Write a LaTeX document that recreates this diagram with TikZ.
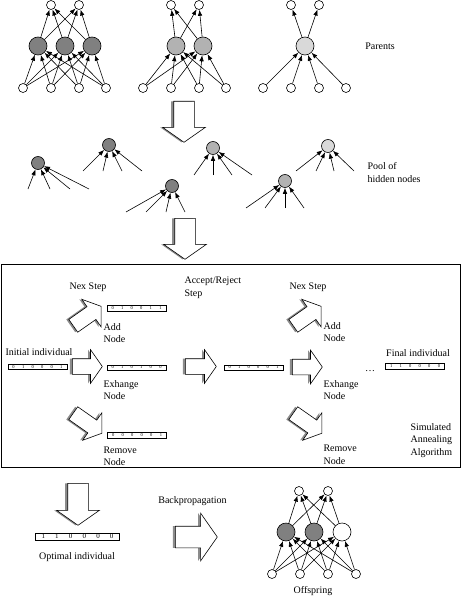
\documentclass[tikz,border=0pt]{standalone}
\usepackage{fontspec}
\setmainfont{Liberation Serif}
\usetikzlibrary{arrows.meta,positioning,shapes.arrows,shadows}

\newcommand{\bitrow}[7][50pt]{\makebox[#1]{#2\hfill#3\hfill#4\hfill#5\hfill#6\hfill#7}}

\begin{document}
\begin{tikzpicture}[
  x=1pt, y=-1pt,
  every node/.style={align=left, font=\fontsize{10}{12.5}\selectfont},
  unit/.style={circle, draw, line width=0.6pt, minimum size=9pt, inner sep=0pt, fill=white},
  hid/.style={circle, draw, line width=0.6pt, minimum size=18pt, inner sep=0pt},
  poolhid/.style={circle, draw, line width=0.6pt, minimum size=13pt, inner sep=0pt},
  conn/.style={-{Latex[length=6pt,width=4.5pt]}, line width=0.6pt},
  bits/.style={rectangle, draw, line width=0.5pt, inner xsep=4.5pt, inner ysep=0.3pt, minimum height=5.5pt, font=\fontsize{4.5}{5}\selectfont},
  blockarr/.style={single arrow, draw, line width=0.6pt, fill=white, inner xsep=0pt, anchor=tail,
    single arrow head indent=0pt, single arrow tip angle=110,
    drop shadow={shadow xshift=-2.5pt, shadow yshift=0pt, fill=black!45, opacity=1}},
  sarrow/.style={blockarr, inner ysep=7.5pt, single arrow head extend=9pt},
  larrow/.style={blockarr, inner ysep=10pt, single arrow head extend=11pt},
  gdark/.style={fill=black!50}, gmid/.style={fill=black!30}, glight/.style={fill=black!15}
]
\useasboundingbox (0,0) rectangle (462,599);

% Parent 1
\node[unit] (a1o1) at (51,5) {};
\node[unit] (a1o2) at (79,5) {};
\node[hid, gdark] (a1h1) at (38,46) {};
\node[hid, gdark] (a1h2) at (65,46) {};
\node[hid, gdark] (a1h3) at (92,46) {};
\node[unit] (a1i1) at (23,88) {};
\node[unit] (a1i2) at (51,88) {};
\node[unit] (a1i3) at (79,88) {};
\node[unit] (a1i4) at (106,88) {};
\foreach \i in {1,...,4} \foreach \h in {1,2,3} \draw[conn] (a1i\i) -- (a1h\h);
\foreach \h in {1,2,3} \foreach \o in {1,2} \draw[conn] (a1h\h) -- (a1o\o);

% Parent 2
\node[unit] (a2o1) at (171,5) {};
\node[unit] (a2o2) at (199,5) {};
\node[hid, gmid] (a2h1) at (176,46) {};
\node[hid, gmid] (a2h2) at (203,46) {};
\node[unit] (a2i1) at (143,88) {};
\node[unit] (a2i2) at (171,88) {};
\node[unit] (a2i3) at (199,88) {};
\node[unit] (a2i4) at (226,88) {};
\foreach \i in {1,...,4} \foreach \h in {1,2} \draw[conn] (a2i\i) -- (a2h\h);
\foreach \h in {1,2} \foreach \o in {1,2} \draw[conn] (a2h\h) -- (a2o\o);

% Parent 3
\node[unit] (a3o1) at (291,5) {};
\node[unit] (a3o2) at (319,5) {};
\node[hid, glight] (a3h1) at (305,46) {};
\node[unit] (a3i1) at (263,88) {};
\node[unit] (a3i2) at (291,88) {};
\node[unit] (a3i3) at (319,88) {};
\node[unit] (a3i4) at (346,88) {};
\foreach \i in {1,...,4} \draw[conn] (a3i\i) -- (a3h1);
\foreach \o in {1,2} \draw[conn] (a3h1) -- (a3o\o);

\node (parents) at (380,46) {Parents};

\node[larrow, minimum height=41pt, rotate=-90] (down1) at (184,101) {};

% Pool of hidden nodes
\foreach \n/\cx/\cy/\f/\ey/\ea/\eb/\ec/\ed in {
    p1/38/163/black!50/189/28/50/70/89,
    p2/109/145/black!50/171/83/103/122/142,
    p3/213/148/black!30/175/194/213/232/252,
    p4/172/186/black!50/212/126/146/166/185,
    p5/285/181/black!30/208/246/265/285/304,
    p6/328/146/black!15/171/296/316/334/354} {
  \node[poolhid, fill=\f] (\n) at (\cx,\cy) {};
  \foreach \x [count=\k] in {\ea,\eb,\ec,\ed} {
    \coordinate (\n e\k) at (\x,\ey);
    \draw[conn] (\n e\k) -- (\n);
  }
}
\node[anchor=west] (pool) at (364,172.5) {Pool of\\hidden nodes};

\node[larrow, minimum height=41pt, rotate=-90] (down2) at (185,218) {};

% Simulated annealing box
\node[draw, line width=0.7pt, anchor=north west, inner sep=0pt, minimum width=459pt, minimum height=203pt] (sabox) at (1,264) {};

\node (next1) at (88,287) {Nex Step};
\node (next2) at (308,287) {Nex Step};
\node[anchor=west] (accept) at (181,288) {Accept/Reject\\Step};

\node (initlab) at (39,352) {Initial individual};
\node[bits] (init) at (37.5,366.8) {\bitrow{0}{1}{0}{0}{0}{1}};

\node[sarrow, minimum height=34pt, rotate=35] (add1) at (73,326) {};
\node[sarrow, minimum height=30pt] (exch1) at (72,366.5) {};
\node[sarrow, minimum height=35pt, rotate=-35] (rem1) at (73,413) {};

\node[bits] (addbits) at (136.5,308) {\bitrow{0}{1}{0}{0}{1}{1}};
\node[bits] (exchbits) at (136.5,367.5) {\bitrow{0}{1}{0}{1}{0}{0}};
\node[bits] (rembits) at (137,435) {\bitrow{0}{0}{0}{0}{0}{1}};

\node[anchor=west] (addlab1) at (100,333) {Add\\Node};
\node[anchor=west] (exchlab1) at (100,390) {Exhange\\Node};
\node[anchor=west] (remlab1) at (100,456.5) {Remove\\Node};

\node[sarrow, minimum height=31pt] (acc) at (185,366.5) {};
\node[bits] (midbits) at (253.5,367.5) {\bitrow{0}{1}{0}{0}{0}{1}};

\node[sarrow, minimum height=34pt, rotate=35] (add2) at (293,326) {};
\node[sarrow, minimum height=30pt] (exch2) at (292,367) {};
\node[sarrow, minimum height=35pt, rotate=-35] (rem2) at (293,413) {};

\node[anchor=west] (addlab2) at (320,332) {Add\\Node};
\node[anchor=west] (exchlab2) at (320,390) {Exhange\\Node};
\node[anchor=west] (remlab2) at (320,455) {Remove\\Node};

\node (dots) at (370,371) {\ldots};
\node (finallab) at (418,352.7) {Final individual};
\node[bits] (final) at (415,366) {\bitrow{1}{1}{0}{0}{0}{0}};

\node[anchor=west] (salab) at (407,440.5) {Simulated\\Annealing\\Algorithm};

% Bottom: optimal individual and offspring
\node[larrow, minimum height=42pt, rotate=-90] (down3) at (78,483) {};
\node[bits, font=\fontsize{7}{8}\selectfont, inner xsep=6pt, minimum height=7.5pt] (optimal) at (77.5,536.5) {\bitrow[72pt]{1}{1}{0}{0}{0}{0}};
\node (optlab) at (77,556.7) {Optimal individual};

\node (bplab) at (192.5,501) {Backpropagation};
\node[blockarr, minimum height=42pt, inner ysep=10.5pt, single arrow head extend=13pt] (bp) at (175,537) {};

\node[unit] (b1o1) at (299,491) {};
\node[unit] (b1o2) at (328,491) {};
\node[hid, gdark] (b1h1) at (286,532) {};
\node[hid, gdark] (b1h2) at (314,532) {};
\node[hid, fill=white] (b1h3) at (342,532) {};
\node[unit] (b1i1) at (272,574) {};
\node[unit] (b1i2) at (300,574) {};
\node[unit] (b1i3) at (328,574) {};
\node[unit] (b1i4) at (356,574) {};
\foreach \i in {1,...,4} \foreach \h in {1,2,3} \draw[conn] (b1i\i) -- (b1h\h);
\foreach \h in {1,2,3} \foreach \o in {1,2} \draw[conn] (b1h\h) -- (b1o\o);

\node (offlab) at (313,591) {Offspring};

\end{tikzpicture}
\end{document}
